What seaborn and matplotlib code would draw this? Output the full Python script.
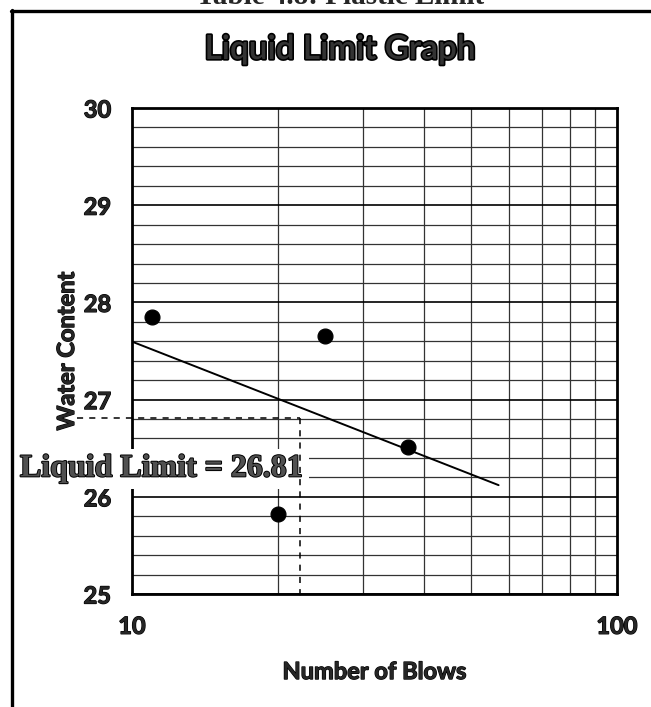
import numpy as np
import pandas as pd
import matplotlib
matplotlib.use('Agg')
import matplotlib.pyplot as plt
import matplotlib.ticker as mticker
import matplotlib.transforms as mtransforms
import matplotlib.patheffects as pe
from matplotlib.lines import Line2D
import seaborn as sns

# data
blows = [11, 25, 37, 20]
water = [27.85, 27.65, 26.51, 25.82]
# trendline drawn from 10 blows out to ~57 blows
trend_start = 10
trend_end = 57
# liquid limit guide lines (as drawn on the sheet)
ll_value = 26.81
ll_x = 22.2
guide_x0 = 7.7
guide_y1 = 24.93

sns.set_style('white')
plt.rcParams['font.family'] = ['Lato', 'DejaVu Sans']

df = pd.DataFrame({'Number of Blows': blows, 'Water Content': water})

# least squares fit on log(N), like the excel log trendline
slope, icpt = np.polyfit(np.log10(df['Number of Blows']), df['Water Content'], 1)
tx = np.array([trend_start, trend_end])
trend = pd.DataFrame({'x': tx, 'y': slope * np.log10(tx) + icpt})

fig = plt.figure(figsize=(6.51, 7.07), dpi=100)
ax = fig.add_axes([132 / 651, 1 - 594 / 707, 485 / 651, 486 / 707])

ax.set_xscale('log')
ax.set_xlim(10, 100)
ax.set_ylim(25, 30)

ax.xaxis.set_major_locator(mticker.FixedLocator([10, 100]))
ax.xaxis.set_major_formatter(mticker.FuncFormatter(lambda v, p: '%d' % v))
ax.xaxis.set_minor_locator(mticker.LogLocator(base=10, subs=np.arange(2, 10)))
ax.xaxis.set_minor_formatter(mticker.NullFormatter())
ax.yaxis.set_major_locator(mticker.MultipleLocator(1))
ax.yaxis.set_minor_locator(mticker.MultipleLocator(0.2))

ax.grid(which='major', axis='y', color='black', lw=1.2)
ax.grid(which='minor', axis='y', color='#333333', lw=0.9)
ax.grid(which='minor', axis='x', color='#333333', lw=0.9)
ax.set_axisbelow(True)

for s in ax.spines.values():
    s.set_color('black')
    s.set_linewidth(2)

# thicker strokes so the text looks like the heavy calibri bold
heavy = [pe.withStroke(linewidth=0.9, foreground='black')]

ax.tick_params(which='both', length=0)
ax.tick_params(axis='y', pad=15, labelsize=17)
ax.tick_params(axis='x', pad=15, labelsize=17)
for lab in ax.get_xticklabels() + ax.get_yticklabels():
    lab.set_fontweight('bold')
    lab.set_path_effects(heavy)

sns.lineplot(data=trend, x='x', y='y', color='black', lw=1.4, ax=ax, zorder=3)
sns.scatterplot(data=df, x='Number of Blows', y='Water Content', color='black',
                s=115, edgecolor='black', ax=ax, zorder=6, clip_on=False)

# liquid limit label with white box
tr = mtransforms.blended_transform_factory(fig.transFigure, ax.transData)
ax.text(20 / 651, 26.21, 'Liquid Limit = 26.81', transform=tr, ha='left', va='baseline',
        fontsize=23, fontweight='bold', family=['Liberation Serif', 'DejaVu Serif'],
        color='#505050', zorder=4, clip_on=False,
        bbox=dict(boxstyle='square,pad=0.18', fc='white', ec='none'),
        path_effects=[pe.withStroke(linewidth=1.4, foreground='black')])

ax.plot([guide_x0, ll_x], [ll_value, ll_value], color='black', lw=1.1, ls=(0, (4, 4)),
        clip_on=False, zorder=5)
ax.plot([ll_x, ll_x], [ll_value, guide_y1], color='black', lw=1.1, ls=(0, (4, 4)),
        clip_on=False, zorder=5)

ax.set_xlabel('Number of Blows', fontsize=17, fontweight='bold', labelpad=16,
              path_effects=heavy)
ax.set_ylabel('Water Content', fontsize=17, fontweight='bold', labelpad=4,
              path_effects=heavy)

fig.text(340 / 651, 1 - 59 / 707, 'Liquid Limit Graph', ha='center', va='baseline',
         fontsize=24, fontweight='semibold', color='#333333',
         path_effects=[pe.withStroke(linewidth=2.4, foreground='black')])

# cut off caption and page frame
fig.text(340 / 651, 1 - 4 / 707, 'Table 4.8: Plastic Limit', ha='center', va='baseline',
         fontsize=21, fontweight='bold', family=['Liberation Serif', 'DejaVu Serif'])
fig.add_artist(Line2D([12 / 651, 12 / 651], [0, 1 - 10 / 707], color='black', lw=2.4,
                      transform=fig.transFigure))
fig.add_artist(Line2D([11 / 651, 1], [1 - 11 / 707, 1 - 11 / 707], color='black', lw=2.4,
                      transform=fig.transFigure))

fig.savefig('out.png', dpi=100, facecolor='white')
